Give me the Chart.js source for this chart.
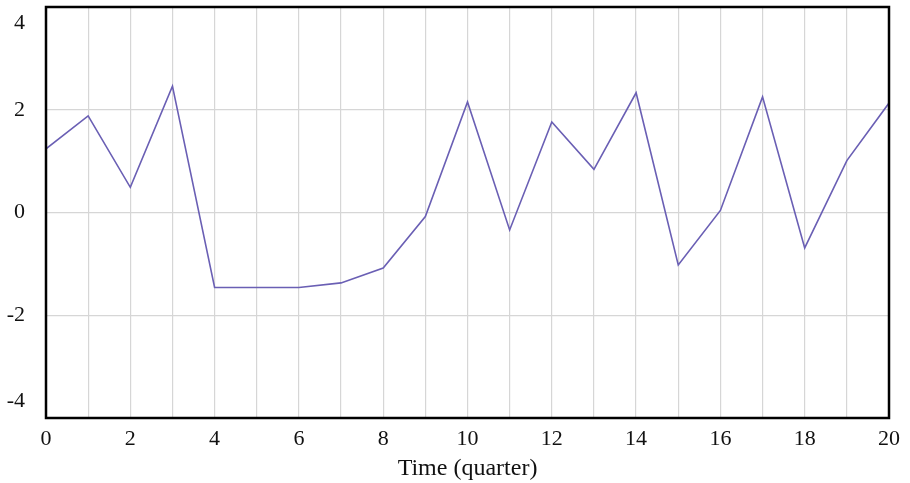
<!DOCTYPE html>
<html>
<head>
<meta charset="utf-8">
<script src="https://cdn.jsdelivr.net/npm/chart.js@4/dist/chart.umd.min.js"></script>
<style>
    html, body { margin: 0; padding: 0; background: #fff; }
    #wrap { width: 910px; height: 483px; }
</style>
</head>
<body>
<div id="wrap"><canvas id="chart"></canvas></div>
<script>
// Data
const quarters = [0, 1, 2, 3, 4, 5, 6, 7, 8, 9, 10, 11, 12, 13, 14, 15, 16, 17, 18, 19, 20];
const values = [1.24, 1.88, 0.49, 2.46, -1.46, -1.46, -1.46, -1.37, -1.08, -0.08, 2.15,
                -0.34, 1.76, 0.84, 2.33, -1.02, 0.04, 2.25, -0.69, 1.01, 2.13];
const yTicks = [-4, -2, 0, 2, 4];
const xTitle = "Time (quarter)";

const serif = "'Liberation Serif', 'DejaVu Serif', serif";

// black frame round the plot area
const framePlugin = {
    id: "frame",
    afterDraw(chart) {
        const { ctx, chartArea: a } = chart;
        ctx.save();
        ctx.strokeStyle = "#000";
        ctx.lineWidth = 2.5;
        ctx.strokeRect(a.left, a.top, a.right - a.left, a.bottom - a.top);
        ctx.restore();
    }
};

new Chart(document.getElementById("chart"), {
    type: "line",
    data: {
        datasets: [{
            data: quarters.map((q, i) => ({ x: q, y: values[i] })),
            borderColor: "#6a5fb4",
            borderWidth: 1.6,
            pointRadius: 0,
            tension: 0,
            fill: false
        }]
    },
    options: {
        responsive: true,
        maintainAspectRatio: false,
        animation: false,
        layout: { padding: { top: 7, right: 21, left: 0, bottom: 2 } },
        plugins: { legend: { display: false }, tooltip: { enabled: false } },
        scales: {
            x: {
                type: "linear",
                min: 0,
                max: 20,
                afterBuildTicks: (axis) => { axis.ticks = quarters.map((q) => ({ value: q })); },
                afterFit: (axis) => { axis.height = 63; },
                ticks: {
                    autoSkip: false,
                    maxRotation: 0,
                    color: "#111",
                    font: { family: serif, size: 22, lineHeight: 1 },
                    padding: 10,
                    callback: (v) => (v % 2 === 0 ? v : "")
                },
                grid: { color: "#d6d6d6", lineWidth: 1.2, drawTicks: false },
                border: { display: false },
                title: {
                    display: true,
                    text: xTitle,
                    color: "#111",
                    font: { family: serif, size: 24, lineHeight: 1 },
                    padding: { top: 7, bottom: 0 }
                }
            },
            y: {
                min: -4,
                max: 4,
                afterBuildTicks: (axis) => { axis.ticks = yTicks.map((v) => ({ value: v })); },
                afterFit: (axis) => {
                    axis.width = 46;
                    axis.paddingTop = 0;
                    axis.paddingBottom = 0;
                },
                ticks: {
                    color: "#111",
                    font: { family: serif, size: 22, lineHeight: 1.5 },
                    padding: 21,
                    // end labels sit inside the frame, as in the source
                    callback: (v) => (v === 4 ? ["", "4"] : v === -4 ? ["-4", ""] : String(v))
                },
                grid: { color: "#d6d6d6", lineWidth: 1.2, drawTicks: false },
                border: { display: false }
            }
        }
    },
    plugins: [framePlugin]
});
</script>
</body>
</html>
